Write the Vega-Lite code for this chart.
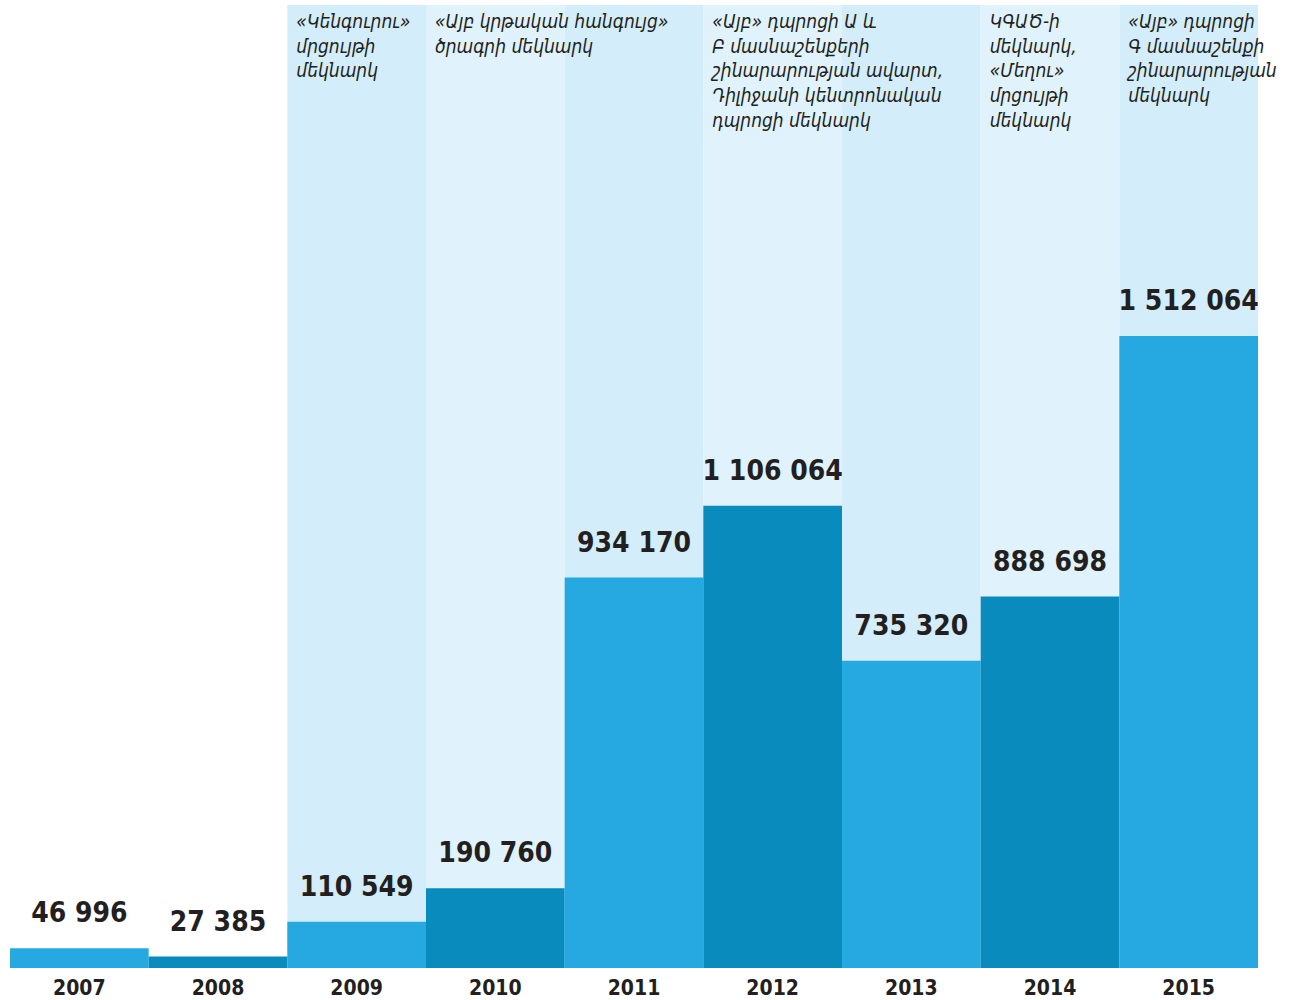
{
  "$schema": "https://vega.github.io/schema/vega-lite/v6.json",
  "width": 1248,
  "height": 963,
  "autosize": {"type": "none"},
  "padding": {"left": 10, "top": 5, "right": 33, "bottom": 32},
  "background": "white",
  "config": {"view": {"stroke": null}},
  "data": {
    "values": [
      {"year": "2007", "value": 46996, "label": "46 996", "note": ""},
      {"year": "2008", "value": 27385, "label": "27 385", "note": ""},
      {"year": "2009", "value": 110549, "label": "110 549", "note": "«Կենգուրու»\nմրցույթի\nմեկնարկ"},
      {"year": "2010", "value": 190760, "label": "190 760", "note": "«Այբ կրթական հանգույց»\nծրագրի մեկնարկ"},
      {"year": "2011", "value": 934170, "label": "934 170", "note": ""},
      {"year": "2012", "value": 1106064, "label": "1 106 064", "note": "«Այբ» դպրոցի Ա և\nԲ մասնաշենքերի\nշինարարության ավարտ,\nԴիլիջանի կենտրոնական\nդպրոցի մեկնարկ"},
      {"year": "2013", "value": 735320, "label": "735 320", "note": ""},
      {"year": "2014", "value": 888698, "label": "888 698", "note": "ԿԳԱԾ-ի\nմեկնարկ,\n«Մեղու»\nմրցույթի\nմեկնարկ"},
      {"year": "2015", "value": 1512064, "label": "1 512 064", "note": "«Այբ» դպրոցի\nԳ մասնաշենքի\nշինարարության\nմեկնարկ"}
    ]
  },
  "encoding": {
    "x": {
      "field": "year",
      "type": "ordinal",
      "scale": {"paddingInner": 0, "paddingOuter": 0},
      "axis": {
        "title": null,
        "domain": false,
        "ticks": false,
        "labelAngle": 0,
        "labelPadding": 9,
        "labelFont": "DejaVu Sans Condensed",
        "labelFontWeight": "bold",
        "labelFontSize": 21,
        "labelColor": "#231f20"
      }
    }
  },
  "layer": [
    {
      "transform": [{"filter": "toNumber(datum.year) >= 2009"}],
      "mark": {"type": "bar"},
      "encoding": {
        "y": {"datum": 2304000, "type": "quantitative", "scale": {"domain": [0, 2304000], "nice": false, "zero": true}, "axis": null},
        "y2": {"datum": 0},
        "color": {
          "field": "year",
          "type": "nominal",
          "scale": {
            "domain": ["2009", "2010", "2011", "2012", "2013", "2014", "2015"],
            "range": ["#d3edfa", "#e0f2fc", "#d3edfa", "#e0f2fc", "#d3edfa", "#e0f2fc", "#d3edfa"]
          },
          "legend": null
        }
      }
    },
    {
      "mark": {"type": "bar"},
      "encoding": {
        "y": {"field": "value", "type": "quantitative", "scale": {"domain": [0, 2304000], "nice": false}, "axis": null},
        "color": {
          "field": "year",
          "type": "nominal",
          "scale": {
            "domain": ["2007", "2008", "2009", "2010", "2011", "2012", "2013", "2014", "2015"],
            "range": ["#25a9e0", "#0a8bbe", "#25a9e0", "#0a8bbe", "#25a9e0", "#0a8bbe", "#25a9e0", "#0a8bbe", "#25a9e0"]
          },
          "legend": null
        }
      }
    },
    {
      "mark": {
        "type": "text",
        "font": "DejaVu Sans Condensed",
        "fontWeight": "bold",
        "fontSize": 28,
        "color": "#231f20",
        "baseline": "alphabetic",
        "align": "center",
        "dy": -26
      },
      "encoding": {
        "y": {"field": "value", "type": "quantitative"},
        "text": {"field": "label"}
      }
    },
    {
      "mark": {
        "type": "text",
        "font": "DejaVu Sans Condensed",
        "fontStyle": "italic",
        "fontSize": 19,
        "color": "#231f20",
        "baseline": "top",
        "align": "left",
        "lineBreak": "\n",
        "lineHeight": 24.7,
        "dx": 9,
        "dy": 8
      },
      "encoding": {
        "x": {"field": "year", "type": "ordinal", "bandPosition": 0},
        "y": {"datum": 2304000, "type": "quantitative"},
        "text": {"field": "note"}
      }
    }
  ],
  "resolve": {"scale": {"color": "independent"}}
}
